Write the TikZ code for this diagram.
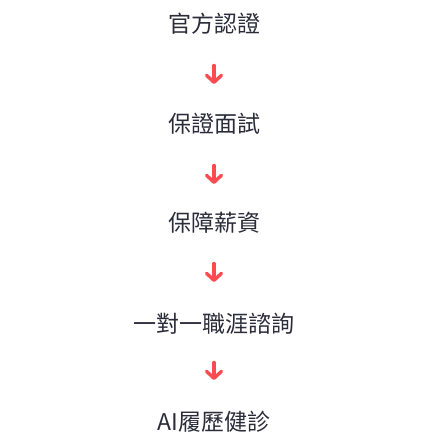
\documentclass[tikz,border=0pt]{standalone}
\usepackage{fontspec}
\setmainfont{Noto Sans CJK TC}
\usetikzlibrary{arrows.meta}
\definecolor{txt}{HTML}{2B2B3A}
\definecolor{arr}{HTML}{FF4A4F}
\begin{document}
\begin{tikzpicture}[x=1pt,y=-1pt,
  lbl/.style={font=\fontsize{23}{23}\selectfont, text=txt, inner sep=0pt, anchor=center},
  flow/.style={draw=arr, line width=3.4pt, line cap=round,
    -{Straight Barb[round, length=7pt, width=15pt]}}]
\useasboundingbox (0,0) rectangle (428,448);
\node[lbl] (n1) at (214,24) {官方認證};
\node[lbl] (n2) at (214,124) {保證面試};
\node[lbl] (n3) at (214,223) {保障薪資};
\node[lbl] (n4) at (214,324) {一對一職涯諮詢};
\node[lbl] (n5) at (214,422) {AI履歷健診};
\coordinate (a1s) at (214,65.5); \coordinate (a1e) at (214,84);
\coordinate (a2s) at (214,165.5); \coordinate (a2e) at (214,184);
\coordinate (a3s) at (214,263.5); \coordinate (a3e) at (214,282);
\coordinate (a4s) at (214,362.5); \coordinate (a4e) at (214,380);
\draw[flow] (a1s) -- (a1e);
\draw[flow] (a2s) -- (a2e);
\draw[flow] (a3s) -- (a3e);
\draw[flow] (a4s) -- (a4e);
\end{tikzpicture}
\end{document}
